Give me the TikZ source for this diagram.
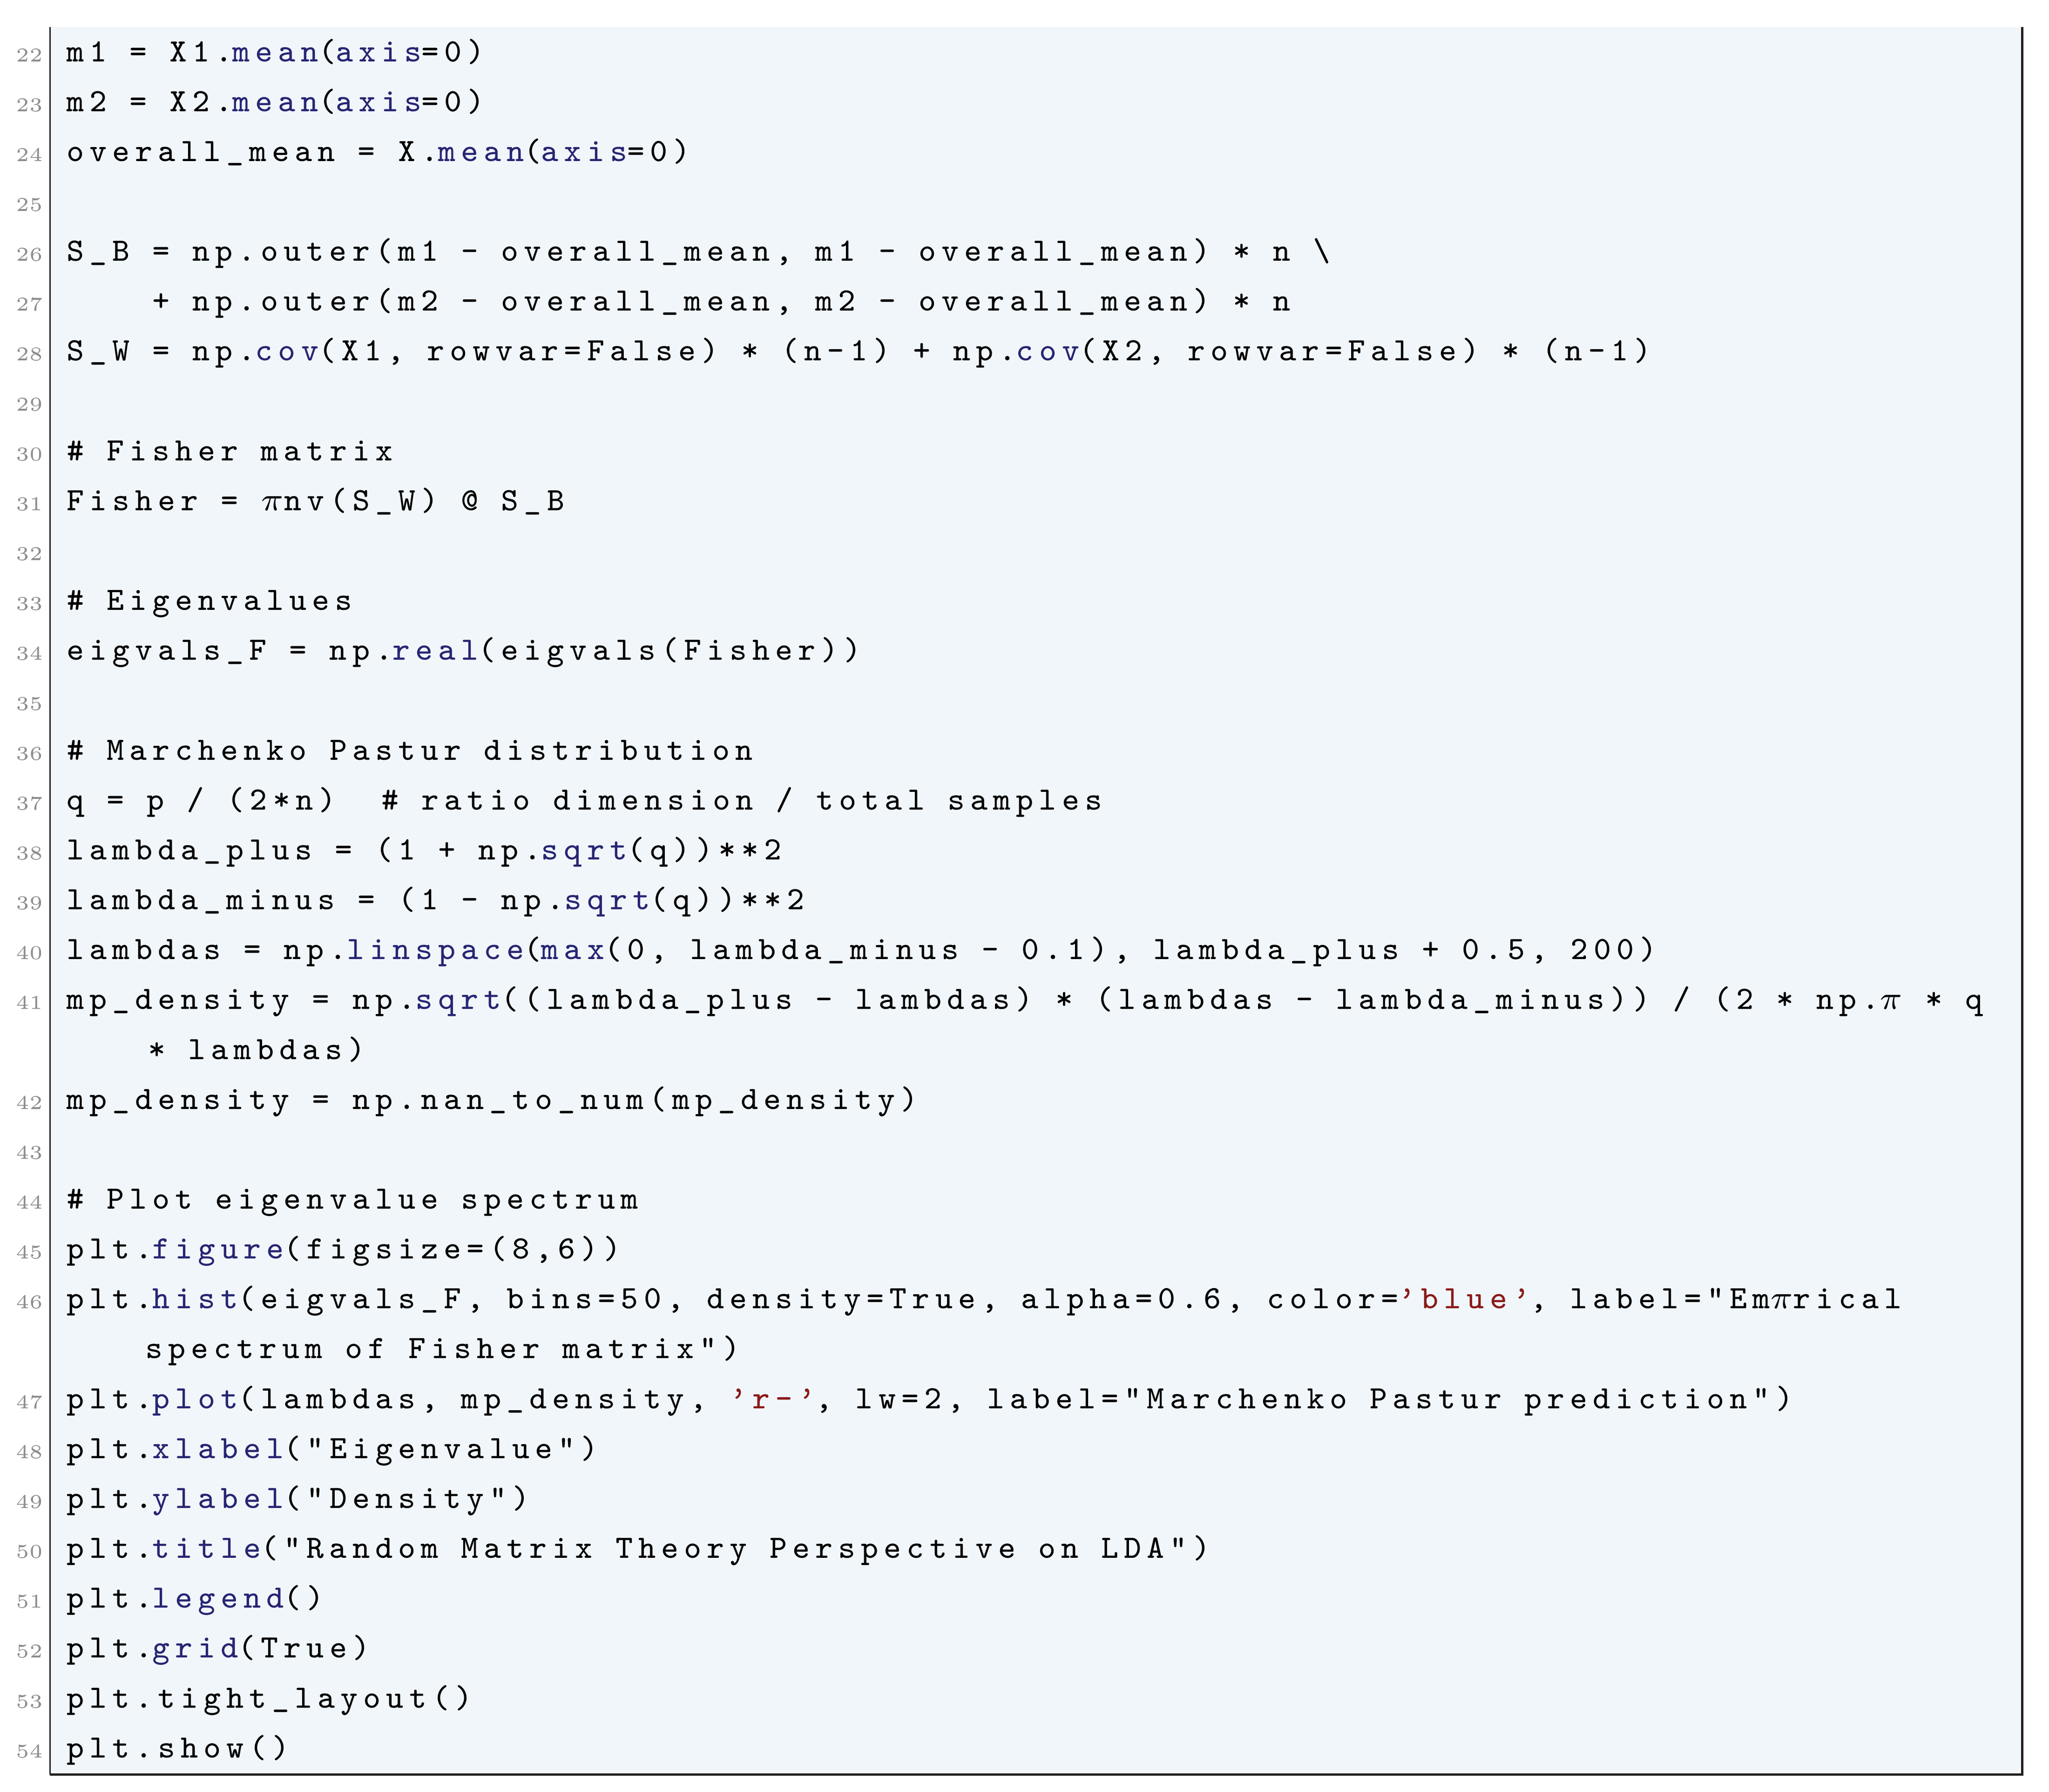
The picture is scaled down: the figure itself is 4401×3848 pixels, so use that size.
\documentclass[tikz,border=0pt]{standalone}
\usepackage{fontspec}
\setmonofont[LetterSpace=17]{Latin Modern Mono}
\definecolor{bgc}{HTML}{F1F6FA}
\definecolor{kwc}{HTML}{262673}
\definecolor{strc}{HTML}{8B1A1A}
\definecolor{numc}{HTML}{8C8C8C}
\definecolor{framec}{HTML}{231F20}
\newcommand\kw[1]{{\color{kwc}#1}}
\newcommand\st[1]{{\color{strc}#1}}
\newcommand\PI{$\pi$}
\begin{document}
\begin{tikzpicture}[x=0.1pt,y=-0.1pt,
  code/.style={anchor=base west,inner sep=0pt,font=\fontsize{7}{8}\selectfont\ttfamily,text=black},
  lno/.style={anchor=base east,inner sep=0pt,font=\fontsize{4.2}{5}\selectfont,text=numc}]
\useasboundingbox (0,0) rectangle (4401,3848);
\fill[bgc] (107,58) rectangle (4343,3811);
\draw[framec,line width=0.3pt] (107,58) -- (107,3811);
\draw[framec,line width=0.5pt] (107,3811) -- (4343,3811) -- (4343,58);
\def\P{107.15}
\foreach \n [count=\i from 0] in {22,23,24,25,26,27,28,29,30,31,32,33,34,35,36,37,38,39,40,41,X,42,43,44,45,46,X,47,48,49,50,51,52,53,54}{
  \if X\n\else\node[lno] (n\n) at (94,132+\i*\P) {\n};\fi
}
\newcommand\cl[3][141]{\node[code] (c#2) at (#1,132+#2*\P) {#3};}
\cl{0}{m1 = X1.\kw{mean}(\kw{axis}=0)}
\cl{1}{m2 = X2.\kw{mean}(\kw{axis}=0)}
\cl{2}{overall\_mean = X.\kw{mean}(\kw{axis}=0)}
\cl{4}{S\_B = np.outer(m1 - overall\_mean, m1 - overall\_mean) * n \textbackslash}
\cl[141]{5}{\phantom{xxxx}+ np.outer(m2 - overall\_mean, m2 - overall\_mean) * n}
\cl{6}{S\_W = np.\kw{cov}(X1, rowvar=False) * (n-1) + np.\kw{cov}(X2, rowvar=False) * (n-1)}
\cl{8}{\# Fisher matrix}
\cl{9}{Fisher = \PI nv(S\_W) @ S\_B}
\cl{11}{\# Eigenvalues}
\cl{12}{eigvals\_F = np.\kw{real}(eigvals(Fisher))}
\cl{14}{\# Marchenko Pastur distribution}
\cl{15}{q = p / (2*n)\ \ \# ratio dimension / total samples}
\cl{16}{lambda\_plus = (1 + np.\kw{sqrt}(q))**2}
\cl{17}{lambda\_minus = (1 - np.\kw{sqrt}(q))**2}
\cl{18}{lambdas = np.\kw{linspace}(\kw{max}(0, lambda\_minus - 0.1), lambda\_plus + 0.5, 200)}
\cl{19}{mp\_density = np.\kw{sqrt}((lambda\_plus - lambdas) * (lambdas - lambda\_minus)) / (2 * np.\PI\ * q}
\cl[316]{20}{* lambdas)}
\cl{21}{mp\_density = np.nan\_to\_num(mp\_density)}
\cl{23}{\# Plot eigenvalue spectrum}
\cl{24}{plt.\kw{figure}(figsize=(8,6))}
\cl{25}{plt.\kw{hist}(eigvals\_F, bins=50, density=True, alpha=0.6, color=\st{’blue’}, label="Em\PI rical}
\cl[310]{26}{spectrum of Fisher matrix")}
\cl{27}{plt.\kw{plot}(lambdas, mp\_density, \st{’r-’}, lw=2, label="Marchenko Pastur prediction")}
\cl{28}{plt.\kw{xlabel}("Eigenvalue")}
\cl{29}{plt.\kw{ylabel}("Density")}
\cl{30}{plt.\kw{title}("Random Matrix Theory Perspective on LDA")}
\cl{31}{plt.\kw{legend}()}
\cl{32}{plt.\kw{grid}(True)}
\cl{33}{plt.tight\_layout()}
\cl{34}{plt.show()}
\end{tikzpicture}
\end{document}
